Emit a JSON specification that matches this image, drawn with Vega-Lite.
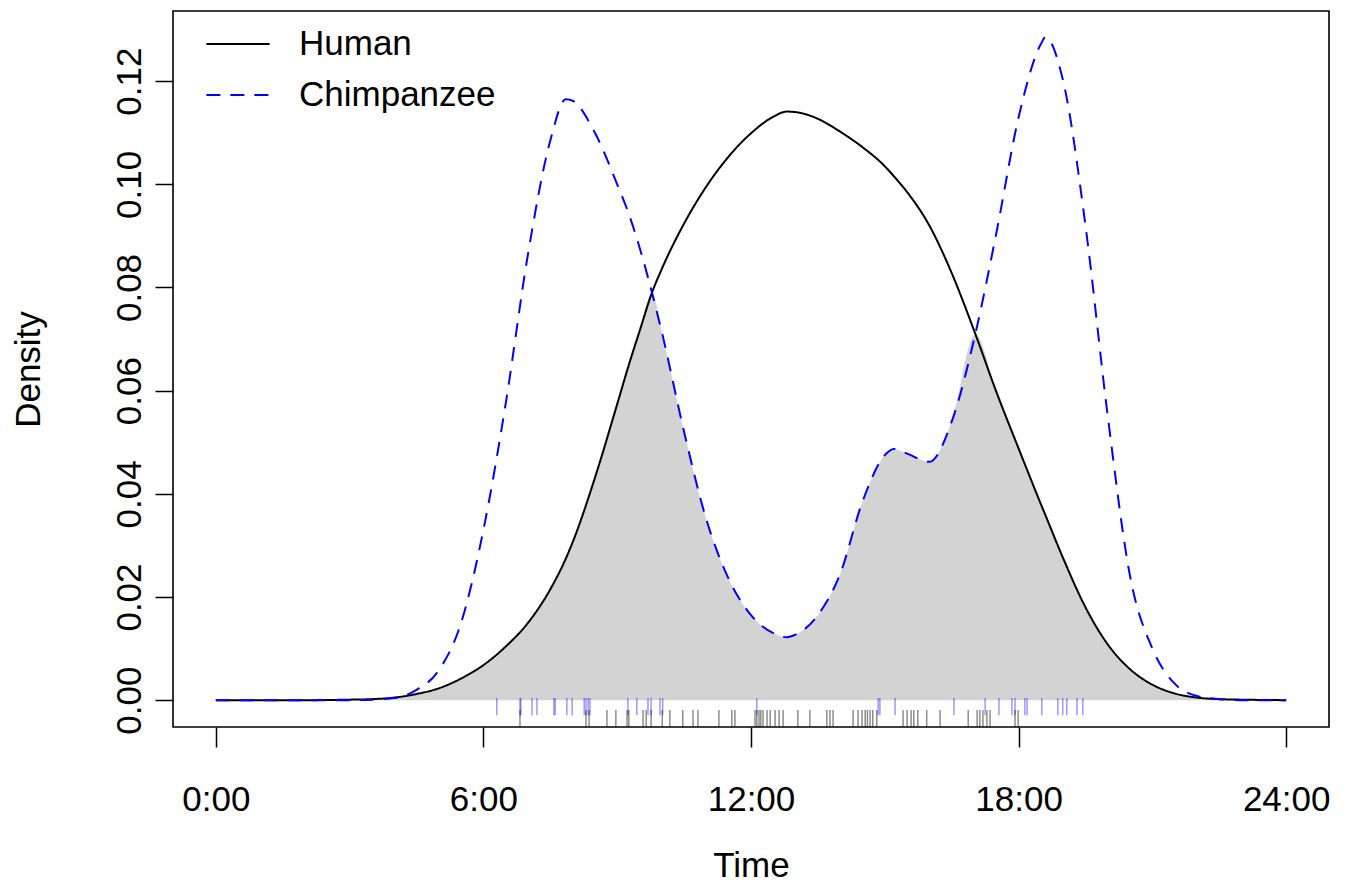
{
  "$schema": "https://vega.github.io/schema/vega-lite/v6.json",
  "width": 1156,
  "height": 716,
  "autosize": {"type": "none"},
  "padding": {"left": 173, "top": 11, "right": 18, "bottom": 163},
  "background": "white",
  "config": {
    "view": {"stroke": "black", "strokeWidth": 1.6},
    "font": "Liberation Sans",
    "axis": {"grid": false, "domain": false, "tickColor": "black", "tickWidth": 1.5, "labelColor": "black", "titleColor": "black", "labelFontSize": 35, "titleFontSize": 35, "titleFontWeight": "normal", "labelFont": "Liberation Sans", "titleFont": "Liberation Sans"}
  },
  "datasets": {
    "curves": [
      {"t": 0, "Human": 0, "Chimpanzee": 0, "overlap": 0},
      {"t": 1, "Human": 0, "Chimpanzee": 0, "overlap": 0},
      {"t": 2, "Human": 0, "Chimpanzee": 0, "overlap": 0},
      {"t": 3, "Human": 0.0001, "Chimpanzee": 0.0, "overlap": 0.0},
      {"t": 3.5, "Human": 0.0002, "Chimpanzee": 0.0001, "overlap": 0.0001},
      {"t": 4, "Human": 0.0005, "Chimpanzee": 0.0004, "overlap": 0.0004},
      {"t": 4.5, "Human": 0.0012, "Chimpanzee": 0.002, "overlap": 0.0012},
      {"t": 5, "Human": 0.0023, "Chimpanzee": 0.0058, "overlap": 0.0023},
      {"t": 5.5, "Human": 0.0042, "Chimpanzee": 0.015, "overlap": 0.0042},
      {"t": 6, "Human": 0.0068, "Chimpanzee": 0.033, "overlap": 0.0068},
      {"t": 6.5, "Human": 0.0104, "Chimpanzee": 0.0575, "overlap": 0.0104},
      {"t": 7, "Human": 0.015, "Chimpanzee": 0.0865, "overlap": 0.015},
      {"t": 7.5, "Human": 0.0215, "Chimpanzee": 0.1085, "overlap": 0.0215},
      {"t": 7.85, "Human": 0.0275, "Chimpanzee": 0.1165, "overlap": 0.0275},
      {"t": 8, "Human": 0.0306, "Chimpanzee": 0.1162, "overlap": 0.0306},
      {"t": 8.5, "Human": 0.0431, "Chimpanzee": 0.11, "overlap": 0.0431},
      {"t": 9, "Human": 0.0574, "Chimpanzee": 0.1, "overlap": 0.0574},
      {"t": 9.25, "Human": 0.0647, "Chimpanzee": 0.0945, "overlap": 0.0647},
      {"t": 9.5, "Human": 0.0715, "Chimpanzee": 0.0878, "overlap": 0.0715},
      {"t": 9.78, "Human": 0.079, "Chimpanzee": 0.079, "overlap": 0.079},
      {"t": 10, "Human": 0.0836, "Chimpanzee": 0.0714, "overlap": 0.0714},
      {"t": 10.5, "Human": 0.0924, "Chimpanzee": 0.052, "overlap": 0.052},
      {"t": 11, "Human": 0.0996, "Chimpanzee": 0.035, "overlap": 0.035},
      {"t": 11.5, "Human": 0.1054, "Chimpanzee": 0.0235, "overlap": 0.0235},
      {"t": 12, "Human": 0.1099, "Chimpanzee": 0.0165, "overlap": 0.0165},
      {"t": 12.5, "Human": 0.1131, "Chimpanzee": 0.013, "overlap": 0.013},
      {"t": 12.8, "Human": 0.1141, "Chimpanzee": 0.0122, "overlap": 0.0122},
      {"t": 13, "Human": 0.114, "Chimpanzee": 0.0127, "overlap": 0.0127},
      {"t": 13.5, "Human": 0.1127, "Chimpanzee": 0.0165, "overlap": 0.0165},
      {"t": 14, "Human": 0.1102, "Chimpanzee": 0.0245, "overlap": 0.0245},
      {"t": 14.5, "Human": 0.1072, "Chimpanzee": 0.0385, "overlap": 0.0385},
      {"t": 15, "Human": 0.1035, "Chimpanzee": 0.0475, "overlap": 0.0475},
      {"t": 15.2, "Human": 0.1016, "Chimpanzee": 0.0487, "overlap": 0.0487},
      {"t": 15.5, "Human": 0.0985, "Chimpanzee": 0.0478, "overlap": 0.0478},
      {"t": 16, "Human": 0.092, "Chimpanzee": 0.0462, "overlap": 0.0462},
      {"t": 16.5, "Human": 0.0828, "Chimpanzee": 0.054, "overlap": 0.054},
      {"t": 17.03, "Human": 0.071, "Chimpanzee": 0.071, "overlap": 0.071},
      {"t": 17.5, "Human": 0.0598, "Chimpanzee": 0.0905, "overlap": 0.0598},
      {"t": 18, "Human": 0.0488, "Chimpanzee": 0.113, "overlap": 0.0488},
      {"t": 18.5, "Human": 0.038, "Chimpanzee": 0.1272, "overlap": 0.038},
      {"t": 18.6, "Human": 0.0359, "Chimpanzee": 0.1285, "overlap": 0.0359},
      {"t": 19, "Human": 0.0275, "Chimpanzee": 0.12, "overlap": 0.0275},
      {"t": 19.5, "Human": 0.018, "Chimpanzee": 0.092, "overlap": 0.018},
      {"t": 20, "Human": 0.0108, "Chimpanzee": 0.055, "overlap": 0.0108},
      {"t": 20.5, "Human": 0.006, "Chimpanzee": 0.024, "overlap": 0.006},
      {"t": 21, "Human": 0.003, "Chimpanzee": 0.01, "overlap": 0.003},
      {"t": 21.5, "Human": 0.0013, "Chimpanzee": 0.0032, "overlap": 0.0013},
      {"t": 22, "Human": 0.0005, "Chimpanzee": 0.0008, "overlap": 0.0005},
      {"t": 22.5, "Human": 0.0002, "Chimpanzee": 0.0002, "overlap": 0.0002},
      {"t": 23, "Human": 0.0001, "Chimpanzee": 0, "overlap": 0},
      {"t": 24, "Human": 0, "Chimpanzee": 0, "overlap": 0}
    ],
    "rugHuman": [
      {"t": 6.82}, {"t": 8.3}, {"t": 8.37}, {"t": 8.77}, {"t": 8.97}, {"t": 9.22}, {"t": 9.26}, {"t": 9.58}, {"t": 9.65}, {"t": 9.76},
      {"t": 10.01}, {"t": 10.18}, {"t": 10.47}, {"t": 10.7}, {"t": 10.81}, {"t": 11.28}, {"t": 11.57}, {"t": 11.64}, {"t": 12.09}, {"t": 12.13},
      {"t": 12.18}, {"t": 12.22}, {"t": 12.27}, {"t": 12.36}, {"t": 12.43}, {"t": 12.54}, {"t": 12.63}, {"t": 12.72}, {"t": 13.05}, {"t": 13.32},
      {"t": 13.7}, {"t": 13.77}, {"t": 13.84}, {"t": 14.29}, {"t": 14.4}, {"t": 14.49}, {"t": 14.56}, {"t": 14.61}, {"t": 14.67}, {"t": 14.73},
      {"t": 14.82}, {"t": 15.41}, {"t": 15.5}, {"t": 15.59}, {"t": 15.65}, {"t": 15.74}, {"t": 15.94}, {"t": 16.24}, {"t": 16.87}, {"t": 17.07},
      {"t": 17.13}, {"t": 17.2}, {"t": 17.29}, {"t": 17.36}, {"t": 17.92}, {"t": 17.99}
    ],
    "rugChimp": [
      {"t": 6.3}, {"t": 6.82}, {"t": 6.84}, {"t": 7.09}, {"t": 7.2}, {"t": 7.58}, {"t": 7.61}, {"t": 7.87}, {"t": 7.99}, {"t": 8.26},
      {"t": 8.3}, {"t": 8.35}, {"t": 8.39}, {"t": 9.24}, {"t": 9.44}, {"t": 9.69}, {"t": 9.76}, {"t": 9.96}, {"t": 10.02}, {"t": 12.13},
      {"t": 14.85}, {"t": 14.89}, {"t": 15.23}, {"t": 16.55}, {"t": 17.25}, {"t": 17.56}, {"t": 17.85}, {"t": 17.92}, {"t": 18.14}, {"t": 18.19},
      {"t": 18.52}, {"t": 18.88}, {"t": 18.99}, {"t": 19.08}, {"t": 19.31}, {"t": 19.44}
    ]
  },
  "encoding": {
    "x": {
      "field": "t", "type": "quantitative",
      "scale": {"domain": [-0.96, 24.96], "nice": false, "zero": false},
      "axis": {"values": [0, 6, 12, 18, 24], "labelExpr": "datum.value + ':00'", "tickSize": 20, "labelPadding": 35, "title": "Time", "titlePadding": 31, "labelFlush": false, "labelOverlap": false}
    }
  },
  "layer": [
    {
      "data": {"name": "curves"},
      "mark": {"type": "area", "color": "#D3D3D3", "interpolate": "monotone"},
      "encoding": {
        "y": {
          "field": "overlap", "type": "quantitative",
          "scale": {"domain": [-0.0052, 0.1336], "nice": false, "zero": false},
          "axis": {"values": [0, 0.02, 0.04, 0.06, 0.08, 0.1, 0.12], "format": ".2f", "labelAngle": -90, "labelAlign": "center", "labelBaseline": "bottom", "tickSize": 18, "labelPadding": 8, "title": "Density", "titlePadding": 66}
        }
      }
    },
    {
      "data": {"name": "curves"},
      "transform": [{"fold": ["Human", "Chimpanzee"], "as": ["species", "density"]}],
      "mark": {"type": "line", "strokeWidth": 2, "interpolate": "monotone"},
      "encoding": {
        "y": {"field": "density", "type": "quantitative"},
        "color": {
          "field": "species", "type": "nominal",
          "scale": {"domain": ["Human", "Chimpanzee"], "range": ["black", "#0000FF"]},
          "legend": {"title": null, "orient": "none", "legendX": 32, "legendY": 0, "symbolType": "stroke", "symbolSize": 4000, "symbolStrokeWidth": 2, "labelFontSize": 35, "labelFont": "Liberation Sans", "labelColor": "black", "labelOffset": 28, "labelLimit": 600, "rowPadding": -48}
        },
        "strokeDash": {
          "field": "species", "type": "nominal",
          "scale": {"domain": ["Human", "Chimpanzee"], "range": [[1, 0], [14, 10]]},
          "legend": {"title": null, "orient": "none", "legendX": 32, "legendY": 0, "symbolType": "stroke", "symbolSize": 4000, "symbolStrokeWidth": 2, "labelFontSize": 35, "labelFont": "Liberation Sans", "labelColor": "black", "labelOffset": 28, "labelLimit": 600, "rowPadding": -48}
        }
      }
    },
    {
      "data": {"name": "rugChimp"},
      "mark": {"type": "rule", "color": "#0000FF", "opacity": 0.4, "strokeWidth": 1.5},
      "encoding": {"y": {"datum": 0.0004}, "y2": {"datum": -0.0029}}
    },
    {
      "data": {"name": "rugHuman"},
      "mark": {"type": "rule", "color": "black", "opacity": 0.45, "strokeWidth": 1.5},
      "encoding": {"y": {"datum": -0.0019}, "y2": {"datum": -0.0052}}
    }
  ]
}
